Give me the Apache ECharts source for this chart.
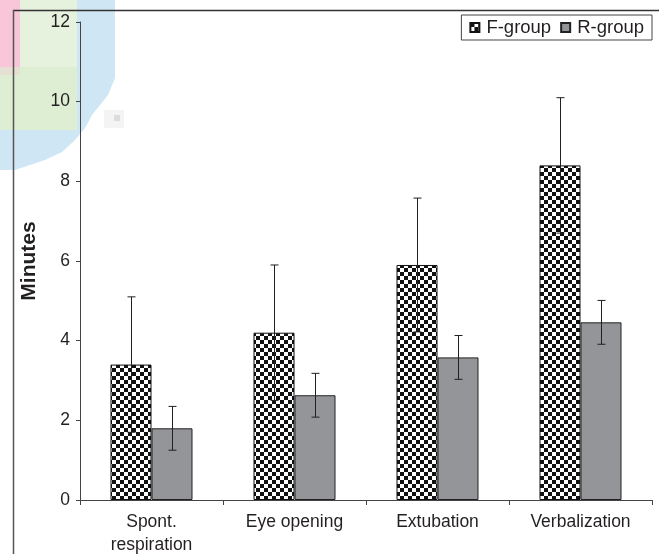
<!DOCTYPE html>
<html>
<head>
<meta charset="utf-8">
<script src="https://cdn.jsdelivr.net/npm/echarts@6/dist/echarts.min.js"></script>
<style>
html,body{margin:0;padding:0;background:#fff;}
#c{width:659px;height:554px;}
</style>
</head>
<body>
<div id="c"></div>
<script>
var categories = ['Spont.\nrespiration', 'Eye opening', 'Extubation', 'Verbalization'];
var fMean = [3.4, 4.2, 5.9, 8.4];
var fSD = [1.7, 1.7, 1.68, 1.7];
var rMean = [1.8, 2.63, 3.58, 4.46];
var rSD = [0.55, 0.55, 0.55, 0.55];
var yTicks = [0, 2, 4, 6, 8, 10, 12];

var BAR_W = 41;
var tile = document.createElement('canvas');
tile.width = 8; tile.height = 8;
var tc = tile.getContext('2d');
tc.fillStyle = '#ffffff'; tc.fillRect(0, 0, 8, 8);
tc.fillStyle = '#111111'; tc.fillRect(0, 0, 4, 4); tc.fillRect(4, 4, 4, 4);
var checker = { image: tile, repeat: 'repeat' };
var gray = '#939598';
var textColor = '#231f20';
var font = 'Liberation Sans';

function errData(mean, sd) {
  return mean.map(function (m, i) { return [i, m - sd[i], m + sd[i]]; });
}
function errRender(offset) {
  return function (params, api) {
    var i = api.value(0);
    var lo = api.coord([i, api.value(1)]);
    var hi = api.coord([i, api.value(2)]);
    var x = Math.round(lo[0] + offset) + 0.5;
    var cap = 4;
    var st = { stroke: '#231f20', lineWidth: 1 };
    return {
      type: 'group',
      children: [
        { type: 'line', shape: { x1: x, y1: lo[1], x2: x, y2: hi[1] }, style: st },
        { type: 'line', shape: { x1: x - cap, y1: hi[1], x2: x + cap, y2: hi[1] }, style: st },
        { type: 'line', shape: { x1: x - cap, y1: lo[1], x2: x + cap, y2: lo[1] }, style: st }
      ]
    };
  };
}

var chart = echarts.init(document.getElementById('c'));
chart.setOption({
  backgroundColor: '#ffffff',
  animation: false,
  textStyle: { fontFamily: font },
  graphic: [
    { type: 'polygon', z: -10, shape: { points: [[0,0],[115,0],[115,78],[108,95],[100,105],[92,115],[85,128],[75,140],[62,152],[45,160],[30,165],[15,170],[0,170]] }, style: { fill: '#cfe6f4' } },
    { type: 'rect', z: -9, shape: { x: 0, y: 0, width: 77, height: 67 }, style: { fill: '#e6f1de' } },
    { type: 'rect', z: -9, shape: { x: 0, y: 67, width: 77, height: 63 }, style: { fill: '#ddeed2' } },
    { type: 'rect', z: -8, shape: { x: 0, y: 0, width: 20, height: 67 }, style: { fill: '#f8c6d8' } },
    { type: 'rect', z: -8, shape: { x: 0, y: 67, width: 20, height: 8 }, style: { fill: '#e6e0d4' } },
    { type: 'rect', z: -7, shape: { x: 104, y: 110, width: 20, height: 18 }, style: { fill: '#f4f4f4' } },
    { type: 'rect', z: -7, shape: { x: 114, y: 115, width: 6, height: 6 }, style: { fill: '#dcdcdc' } },
    { type: 'line', z: 10, shape: { x1: 13, y1: 10.5, x2: 659, y2: 10.5 }, style: { stroke: '#333', lineWidth: 1.5 } },
    { type: 'line', z: 10, shape: { x1: 13.5, y1: 10, x2: 13.5, y2: 554 }, style: { stroke: '#555', lineWidth: 1.5 } }
  ],
  legend: {
    right: 7, top: 15,
    orient: 'horizontal',
    data: ['F-group', 'R-group'],
    itemWidth: 9, itemHeight: 9, itemGap: 9,
    padding: [3, 8, 3, 8],
    borderColor: '#444', borderWidth: 1,
    backgroundColor: '#fff',
    textStyle: { fontSize: 18.5, color: textColor, fontFamily: font, padding: [0, 0, 0, 2] },
    icon: 'rect'
  },
  grid: { left: 80, right: 7, top: 22, bottom: 54, containLabel: false, outerBoundsMode: 'none' },
  xAxis: {
    type: 'category',
    data: categories,
    axisLine: { lineStyle: { color: '#444', width: 1 } },
    axisTick: { show: true, length: 5, lineStyle: { color: '#444' } },
    axisLabel: { fontSize: 17.5, color: textColor, fontFamily: font, margin: 11, lineHeight: 23, interval: 0 }
  },
  yAxis: {
    type: 'value',
    min: 0, max: 12, interval: 2,
    name: 'Minutes',
    nameLocation: 'middle',
    nameGap: 40,
    nameTextStyle: { fontSize: 21, fontWeight: 'bold', color: textColor, fontFamily: font },
    axisLine: { show: true, lineStyle: { color: '#444', width: 1 } },
    axisTick: { show: true, length: 4, lineStyle: { color: '#444' } },
    splitLine: { show: false },
    axisLabel: { fontSize: 17.5, color: textColor, fontFamily: font, margin: 10,
      formatter: function (v) { return yTicks.indexOf(v) >= 0 ? String(v) : ''; } }
  },
  series: [
    { name: 'F-group', type: 'bar', data: fMean, barWidth: BAR_W, barGap: '0%',
      itemStyle: { color: checker, borderColor: '#111', borderWidth: 1 } },
    { name: 'R-group', type: 'bar', data: rMean, barWidth: BAR_W, barGap: '0%',
      itemStyle: { color: gray, borderColor: '#222', borderWidth: 1 } },
    { name: 'F-err', type: 'custom', data: errData(fMean, fSD), renderItem: errRender(-BAR_W / 2), z: 5,
      encode: { x: 0, y: [1, 2] }, silent: true },
    { name: 'R-err', type: 'custom', data: errData(rMean, rSD), renderItem: errRender(BAR_W / 2), z: 5,
      encode: { x: 0, y: [1, 2] }, silent: true }
  ]
});
</script>
</body>
</html>
